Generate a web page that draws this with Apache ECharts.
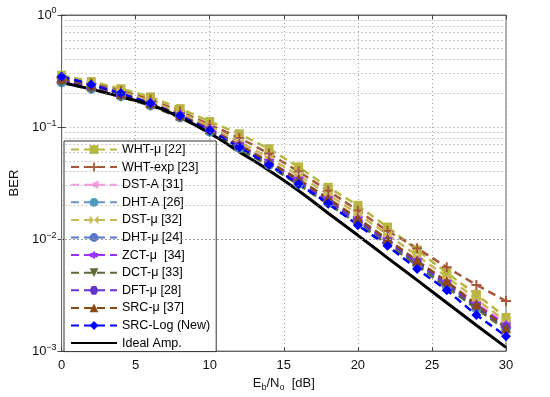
<!DOCTYPE html>
<html><head><meta charset="utf-8">
<script src="https://cdn.jsdelivr.net/npm/echarts@6/dist/echarts.min.js"></script>
<style>html,body{margin:0;padding:0;background:#fff}#c{width:550px;height:397px}</style>
</head><body><div id="c"></div>
<script>
const snr = [0,2,4,6,8,10,12,14,16,18,20,22,24,26,28,30];
const xTicks = [0,5,10,15,20,25,30];
const yDecades = [1,0.1,0.01,0.001];
const whtMu  = [0.290,0.255,0.220,0.186,0.146,0.112,0.087,0.064,0.044,0.029,0.020,0.0128,0.0080,0.0050,0.0032,0.0020];
const whtExp = [0.275,0.245,0.210,0.176,0.138,0.105,0.080,0.058,0.040,0.027,0.018,0.0118,0.0083,0.0056,0.0039,0.0028];
const dstA   = [0.262,0.228,0.194,0.160,0.125,0.094,0.068,0.048,0.033,0.022,0.0148,0.0097,0.0063,0.0041,0.0027,0.00175];
const dhtA   = [0.250,0.220,0.188,0.156,0.122,0.091,0.065,0.046,0.031,0.021,0.0140,0.0092,0.0059,0.0038,0.0024,0.00158];
const dstMu  = [0.272,0.238,0.204,0.170,0.134,0.101,0.074,0.053,0.037,0.025,0.0167,0.0110,0.0071,0.0046,0.0029,0.00185];
const dhtMu  = [0.258,0.225,0.192,0.158,0.124,0.093,0.067,0.047,0.032,0.0215,0.0142,0.0093,0.0060,0.0039,0.0025,0.0016];
const zctMu  = [0.265,0.231,0.197,0.163,0.128,0.096,0.069,0.049,0.034,0.0228,0.0150,0.0098,0.0064,0.0041,0.0026,0.0017];
const dctMu  = [0.248,0.217,0.186,0.155,0.121,0.090,0.064,0.045,0.0305,0.0205,0.0137,0.0090,0.0058,0.0037,0.0024,0.00155];
const dftMu  = [0.262,0.229,0.195,0.161,0.126,0.094,0.068,0.048,0.0328,0.022,0.0146,0.0096,0.0062,0.0040,0.0025,0.00165];
const srcMu  = [0.270,0.235,0.198,0.163,0.127,0.096,0.069,0.049,0.034,0.023,0.0153,0.0100,0.0064,0.0042,0.0026,0.0016];
const srcLog = [0.283,0.240,0.200,0.163,0.126,0.093,0.066,0.046,0.031,0.0208,0.0133,0.0087,0.0054,0.0035,0.0021,0.00136];
const ideal  = [0.250,0.218,0.186,0.158,0.122,0.088,0.060,0.041,0.027,0.017,0.0108,0.0068,0.0043,0.0027,0.0017,0.00108];
const minorVals = [0.002,0.003,0.004,0.005,0.006,0.007,0.008,0.009,0.02,0.03,0.04,0.05,0.06,0.07,0.08,0.09,0.2,0.3,0.4,0.5,0.6,0.7,0.8,0.9];

const P = {
  plus: 'path://M4,0h2v4h4v2h-4v4h-2v-4h-4v-2h4z',
  bow: 'path://M0,0L5,5L0,10Z M10,0L5,5L10,10Z',
  hexagram: 'path://M5,0L6.45,2.5L9.33,2.5L7.9,5L9.33,7.5L6.45,7.5L5,10L3.55,7.5L0.67,7.5L2.1,5L0.67,2.5L3.55,2.5Z',
  hexagon: 'path://M2.5,0.7L7.5,0.7L10,5L7.5,9.3L2.5,9.3L0,5Z',
  thetaCircle: 'path://M5,0A5,5,0,1,0,5,10A5,5,0,1,0,5,0Z M1.6,4.3L1.6,5.7L8.4,5.7L8.4,4.3Z'
};
const defs = [
  {name:'WHT-μ [22]', d:whtMu, c:'#b8b840', s:'rect', sz:9},
  {name:'WHT-exp [23]', d:whtExp, c:'#a8583a', s:P.plus, sz:10},
  {name:'DST-A [31]', d:dstA, c:'#ff99e6', s:'triangle', rot:90, sz:9},
  {name:'DHT-A [26]', d:dhtA, c:'#4d9cc0', s:P.thetaCircle, sz:10, lc:'#6a93c8'},
  {name:'DST-μ [32]', d:dstMu, c:'#c8b85a', s:P.bow, sz:9},
  {name:'DHT-μ [24]', d:dhtMu, c:'#5878c8', s:'circle', sz:9},
  {name:'ZCT-μ  [34]', d:zctMu, c:'#9933ff', s:P.hexagram, sz:11},
  {name:'DCT-μ [33]', d:dctMu, c:'#5a6b35', s:'triangle', rot:180, sz:10},
  {name:'DFT-μ [28]', d:dftMu, c:'#6633cc', s:P.hexagon, sz:8},
  {name:'SRC-μ [37]', d:srcMu, c:'#8b4a14', s:'triangle', sz:10},
  {name:'SRC-Log (New)', d:srcLog, c:'#0000ff', s:'diamond', sz:10}
];
const series = [{
  type:'line', name:'grid', data:[], silent:true, z:1,
  markLine:{silent:true, symbol:['none','none'], label:{show:false}, animation:false,
    lineStyle:{type:[1,3], color:'#999', width:1},
    data: minorVals.map(v=>({yAxis:v}))}
}];
defs.forEach(o=>{
  series.push({
    type:'line', name:o.name, data:snr.map((x,i)=>[x,o.d[i]]),
    symbol:o.s, symbolSize:o.sz, symbolRotate:o.rot||0, showAllSymbol:true,
    lineStyle:{color:o.lc||o.c, width:2.5, type:[8,5]},
    itemStyle:{color:o.c, borderWidth:0}, animation:false
  });
});
series.push({type:'line', name:'Ideal Amp.', data:snr.map((x,i)=>[x,ideal[i]]), smooth:true,
  symbol:'circle', showSymbol:false, lineStyle:{color:'#000', width:3},
  itemStyle:{color:'rgba(0,0,0,0)', borderWidth:0}, animation:false});

const supLbl = v => { const e = Math.round(Math.log10(v)); return '{b|10}{s|' + (e===0?'0':'−'+(-e)) + '}'; };
const axisLbl = {color:'#111', fontFamily:'Liberation Sans, Arial', fontSize:13};
const chart = echarts.init(document.getElementById('c'), null, {renderer:'canvas'});
chart.setOption({
  animation:false,
  grid:{left:61, right:44, top:15, bottom:43, show:true, borderColor:'#666', borderWidth:1},
  legend:{
    data: defs.map(o=>o.name).concat(['Ideal Amp.']),
    orient:'vertical', left:64, top:141, itemWidth:46, itemHeight:11, itemGap:4.6,
    backgroundColor:'#fff', borderColor:'#333', borderWidth:1, padding:[2,6,2,6],
    textStyle:{fontFamily:'Liberation Sans, Arial', fontSize:12.5, color:'#000'}
  },
  xAxis:[{
    type:'value', min:0, max:30, interval:5, position:'bottom',
    name:'{n|E}{sub|b}{n|/N}{sub|o}{n|  [dB]}', nameLocation:'middle', nameGap:20,
    nameTextStyle:{rich:{n:{fontSize:13, fontFamily:'Liberation Sans, Arial', color:'#111'}, sub:{fontSize:9, fontFamily:'Liberation Sans, Arial', color:'#111', padding:[8,0,0,0]}}},
    axisLine:{lineStyle:{color:'#666'}}, axisTick:{inside:true, length:4, lineStyle:{color:'#444'}},
    axisLabel:Object.assign({margin:8}, axisLbl),
    splitLine:{show:true, lineStyle:{type:[1,3], color:'#999'}}
  },{
    type:'value', min:0, max:30, interval:5, position:'top',
    axisLine:{lineStyle:{color:'#666'}}, axisTick:{inside:true, length:4, lineStyle:{color:'#444'}},
    axisLabel:{show:false}, splitLine:{show:false}
  }],
  yAxis:[{
    type:'log', logBase:10, min:0.001, max:1, name:'BER', nameLocation:'middle', nameGap:37,
    nameTextStyle:{fontSize:13, fontFamily:'Liberation Sans, Arial', color:'#111'},
    axisLine:{lineStyle:{color:'#666'}}, axisTick:{inside:true, length:4, lineStyle:{color:'#444'}},
    axisLabel:{formatter:supLbl, margin:5, rich:{b:{fontSize:13, fontFamily:'Liberation Sans, Arial', color:'#111'}, s:{fontSize:9, fontFamily:'Liberation Sans, Arial', color:'#111', padding:[0,0,8,0]}}},
    splitLine:{show:true, lineStyle:{type:[1,3], color:'#999'}}
  },{
    type:'log', logBase:10, min:0.001, max:1, position:'right',
    axisLine:{lineStyle:{color:'#666'}}, axisTick:{inside:true, length:4, lineStyle:{color:'#444'}},
    axisLabel:{show:false}, splitLine:{show:false}
  }],
  series: series
});
</script></body></html>
